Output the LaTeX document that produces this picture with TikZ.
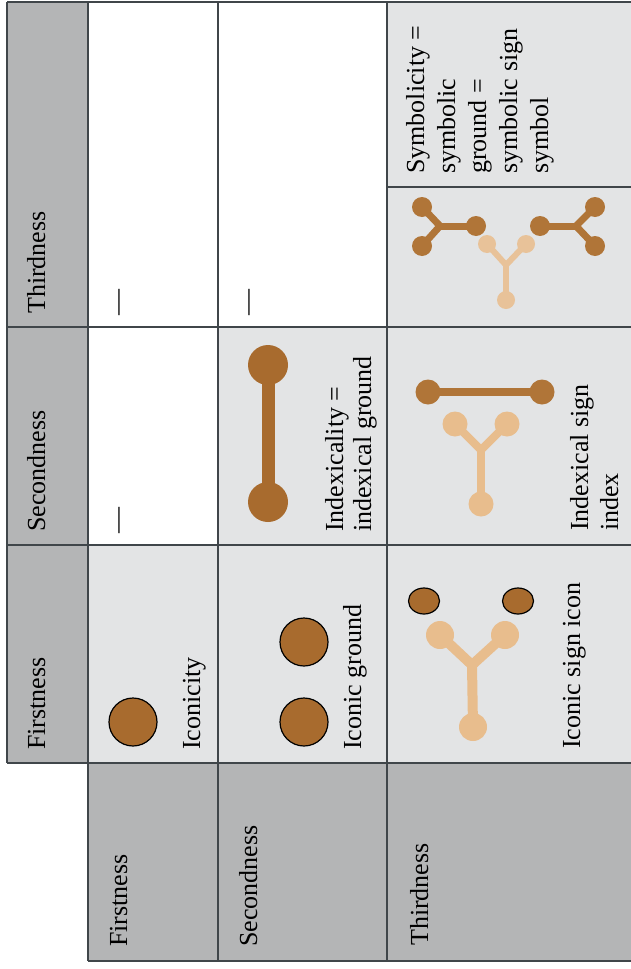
\documentclass[tikz,border=0pt]{standalone}
\usepackage{fontspec}
\setmainfont{Liberation Serif}
\definecolor{hdr}{HTML}{B4B5B6}
\definecolor{cellg}{HTML}{E3E4E5}
\definecolor{gridc}{HTML}{40464A}
\definecolor{dkbrown}{HTML}{A86B2E}
\definecolor{mdbrown}{HTML}{B07538}
\definecolor{lttan}{HTML}{E8BD8D}
\definecolor{lttanb}{HTML}{E8C299}
\begin{document}
\begin{tikzpicture}[x=1pt,y=-1pt,
  lbl/.style={rotate=90,inner sep=0pt,font=\fontsize{26}{30}\selectfont,anchor=base west},
  mlbl/.style={rotate=90,inner sep=0pt,font=\fontsize{26}{30}\selectfont,anchor=north west,align=left},
  gridline/.style={draw=gridc,line width=1.4pt},
  dot/.style={fill=dkbrown,draw=black,line width=1.2pt},
  bar/.style={line width=#1,line cap=round,line join=round},
]
\useasboundingbox (0,0) rectangle (631,969);
\fill[white] (0,0) rectangle (631,969);
% cell fills
\fill[hdr] (7,2) rectangle (88,763);
\fill[hdr] (88,763) rectangle (631,961);
\fill[cellg] (88,545) rectangle (218,763);
\fill[cellg] (218,327) rectangle (387,763);
\fill[cellg] (387,2) rectangle (631,763);
% grid
\draw[gridline] (7,2) -- (631,2);
\draw[gridline] (7,2) -- (7,763);
\draw[gridline] (7,327) -- (631,327);
\draw[gridline] (7,545) -- (631,545);
\draw[gridline] (7,763) -- (631,763);
\draw[gridline] (88,961) -- (631,961);
\draw[gridline] (88,2) -- (88,961);
\draw[gridline] (218,2) -- (218,961);
\draw[gridline] (387,2) -- (387,961);
\draw[gridline] (387,187) -- (631,187);
% header labels
\node[lbl] (rT) at (45,314) {Thirdness};
\node[lbl] (rS) at (45,532) {Secondness};
\node[lbl] (rF) at (45,750) {Firstness};
\node[lbl] (cF) at (127,947) {Firstness};
\node[lbl] (cS) at (257,947) {Secondness};
\node[lbl] (cT) at (428,946) {Thirdness};
% cell labels
\node[lbl] (iconicity) at (200,750) {Iconicity};
\node[lbl] (iground) at (361,750) {Iconic ground};
\node[lbl] (isign) at (580,749) {Iconic sign icon};
\node[mlbl,font=\fontsize{26}{28}\selectfont] (indexicality) at (325,532) {Indexicality =\\indexical ground};
\node[mlbl] (xsign) at (570,531) {Indexical sign\\index};
\node[mlbl,font=\fontsize{26}{31}\selectfont] (symbolicity) at (406,174) {Symbolicity =\\symbolic\\ground =\\symbolic sign\\symbol};
% dashes
\node[lbl] (d1) at (125,316) {—};
\node[lbl] (d2) at (255,316) {—};
\node[lbl] (d3) at (125,534) {—};
% iconicity
\filldraw[dot] (133,722) circle[radius=24pt];
% iconic ground
\filldraw[dot] (304,642) circle[radius=24pt];
\filldraw[dot] (304,722) circle[radius=24pt];
% iconic sign
\draw[lttan,bar=10pt] (440,635) -- (472,665) -- (505,635);
\draw[lttan,bar=10pt] (472,665) -- (473,727);
\fill[lttan] (440,635) circle[radius=14pt];
\fill[lttan] (505,635) circle[radius=14pt];
\fill[lttan] (473,727) circle[radius=14pt];
\filldraw[dot] (424,601) ellipse[x radius=15.5pt,y radius=13pt];
\filldraw[dot] (518,601) ellipse[x radius=15.5pt,y radius=13pt];
% indexicality dumbbell
\draw[dkbrown,line width=13pt] (268,365) -- (268,502);
\fill[dkbrown] (268,365) circle[radius=20pt];
\fill[dkbrown] (268,502) circle[radius=20pt];
% indexical sign
\draw[mdbrown,line width=8pt] (428,392) -- (542,392);
\fill[mdbrown] (428,392) circle[radius=12.5pt];
\fill[mdbrown] (542,392) circle[radius=12.5pt];
\draw[lttan,bar=8pt] (455,424) -- (481,450) -- (507,424);
\draw[lttan,bar=8pt] (481,450) -- (481,504);
\fill[lttan] (455,424) circle[radius=12.5pt];
\fill[lttan] (507,424) circle[radius=12.5pt];
\fill[lttan] (481,504) circle[radius=12.5pt];
% symbol
\draw[mdbrown,bar=7pt] (422,207) -- (440,226) -- (422,246);
\draw[mdbrown,bar=7pt] (440,226) -- (476,226);
\fill[mdbrown] (422,207) circle[radius=10pt];
\fill[mdbrown] (422,246) circle[radius=10pt];
\fill[mdbrown] (476,226) circle[radius=10pt];
\draw[mdbrown,bar=7pt] (595,207) -- (576,226) -- (595,246);
\draw[mdbrown,bar=7pt] (576,226) -- (540,226);
\fill[mdbrown] (595,207) circle[radius=10pt];
\fill[mdbrown] (595,246) circle[radius=10pt];
\fill[mdbrown] (540,226) circle[radius=10pt];
\draw[lttanb,bar=6pt] (487,244) -- (506,265) -- (526,244);
\draw[lttanb,bar=6pt] (506,265) -- (506,300);
\fill[lttanb] (487,244) circle[radius=9pt];
\fill[lttanb] (526,244) circle[radius=9pt];
\fill[lttanb] (506,300) circle[radius=9pt];
\end{tikzpicture}
\end{document}
